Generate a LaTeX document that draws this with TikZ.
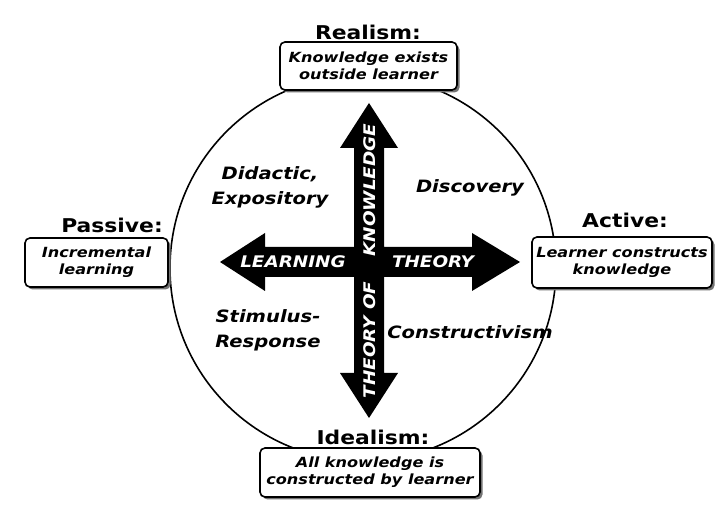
\documentclass[tikz,border=0pt]{standalone}
\usepackage{fontspec}
\setmainfont{DejaVu Sans}[FakeStretch=1.15]
\usetikzlibrary{shadows}
\begin{document}
\begin{tikzpicture}[x=1pt,y=1pt,
  title/.style={font=\bfseries\fontsize{19}{21}\selectfont},
  infobox/.style={draw=black, line width=1.6pt, fill=white, rounded corners=5pt,
    align=center, inner sep=0pt, font=\bfseries\itshape\fontsize{14}{17}\selectfont,
    drop shadow={shadow xshift=2.5pt, shadow yshift=-2.5pt, fill=black!55, opacity=1}},
  quad/.style={align=center, font=\bfseries\itshape\fontsize{17}{25}\selectfont},
  arrowtxt/.style={text=white, inner sep=0pt, font=\bfseries\itshape\fontsize{16}{18}\selectfont}]
\useasboundingbox (0,0) rectangle (718,505);
\fill[white] (0,0) rectangle (718,505);
% circle
\node[draw=black, line width=1.6pt, circle, minimum size=386pt, inner sep=0pt] (ring) at (363,237) {};
% cross arrows
\fill[black] (369,402) -- (398,357) -- (384,357) -- (384,258) -- (472,258) -- (472,272) -- (520,243)
  -- (472,214) -- (472,228) -- (384,228) -- (384,132) -- (398,132) -- (369,87) -- (340,132)
  -- (354,132) -- (354,228) -- (265,228) -- (265,214) -- (220,243) -- (265,272) -- (265,258)
  -- (354,258) -- (354,357) -- (340,357) -- cycle;
\node[arrowtxt] (learn) at (293,243) {LEARNING};
\node[arrowtxt] (theo) at (433,243) {THEORY};
\node[arrowtxt, rotate=90] (know) at (370,315) {KNOWLEDGE};
\node[arrowtxt, rotate=90] (theoof) at (370,165) {THEORY OF};
% quadrant labels
\node[quad] (did) at (270,318) {Didactic,\\Expository};
\node[quad] (disc) at (470,317) {Discovery};
\node[quad] (stim) at (268,175) {Stimulus-\\Response};
\node[quad] (cons) at (470,173) {Constructivism};
% boxes
\node[infobox, minimum width=177pt, minimum height=48pt] (real) at (368.5,439) {Knowledge exists\\outside learner};
\node[infobox, minimum width=143pt, minimum height=49pt] (pass) at (96.5,242.5) {Incremental\\learning};
\node[infobox, minimum width=180pt, minimum height=51pt] (act) at (622,242.5) {Learner constructs\\knowledge};
\node[infobox, minimum width=220pt, minimum height=49pt] (ideal) at (370,32.5) {All knowledge is\\constructed by learner};
% titles
\node[title] (trea) at (368,473) {Realism:};
\node[title] (tpas) at (112,280) {Passive:};
\node[title] (tact) at (625,285) {Active:};
\node[title] (tide) at (373,68) {Idealism:};
\end{tikzpicture}
\end{document}
